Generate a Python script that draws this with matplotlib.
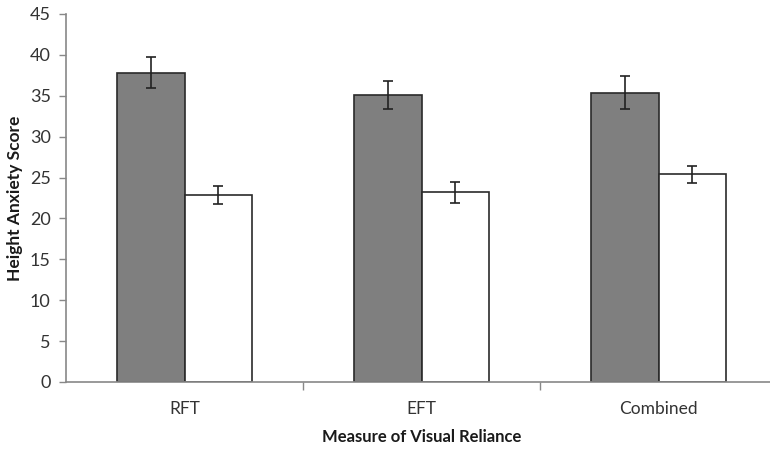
import matplotlib
matplotlib.use('Agg')
import matplotlib.pyplot as plt
import numpy as np

plt.rcParams['font.family'] = ['Lato', 'DejaVu Sans']

categories = ['RFT', 'EFT', 'Combined']
high_reliance = [37.8, 35.1, 35.4]
high_err = [1.9, 1.7, 2.0]
low_reliance = [22.9, 23.2, 25.4]
low_err = [1.1, 1.3, 1.05]

fig = plt.figure(figsize=(7.70, 4.49), dpi=100)
ax = fig.add_axes([66 / 770, 67 / 449, 711 / 770, 368 / 449])

x = np.arange(len(categories))
width = 0.283
err_kw = dict(ecolor='#222222', elinewidth=1.2, capsize=3.8, capthick=1.2)

ax.bar(x - width / 2, high_reliance, width, yerr=high_err, color='#7f7f7f',
       edgecolor='#2a2a2a', linewidth=1.2, error_kw=err_kw)
ax.bar(x + width / 2, low_reliance, width, yerr=low_err, color='white',
       edgecolor='#2a2a2a', linewidth=1.2, error_kw=err_kw)

ax.set_xlim(-0.5, len(categories) - 0.5)
ax.set_ylim(0, 45)
ax.set_yticks(np.arange(0, 46, 5))

# category labels on minor ticks, separators on major ticks
ax.set_xticks(x, minor=True)
ax.set_xticklabels(categories, minor=True)
ax.set_xticks(np.arange(0.5, len(categories) - 0.5, 1))
ax.set_xticklabels([])
ax.tick_params(axis='x', which='minor', length=0, pad=14, labelsize=12.5,
               labelcolor='#333333')
ax.tick_params(axis='x', which='major', length=6, width=1, color='#888888',
               direction='out')
ax.tick_params(axis='y', length=5, width=1, color='#888888', direction='out',
               labelsize=13, labelcolor='#333333', pad=6)

for side in ('top', 'right'):
    ax.spines[side].set_visible(False)
for side in ('left', 'bottom'):
    ax.spines[side].set_color('#888888')
    ax.spines[side].set_linewidth(1.2)

ax.set_ylabel('Height Anxiety Score', fontsize=12.5, fontweight='bold',
              color='#1a1a1a', labelpad=5)
ax.set_xlabel('Measure of Visual Reliance', fontsize=12, fontweight='bold',
              color='#1a1a1a', labelpad=8)

fig.savefig('out.png', dpi=100)
